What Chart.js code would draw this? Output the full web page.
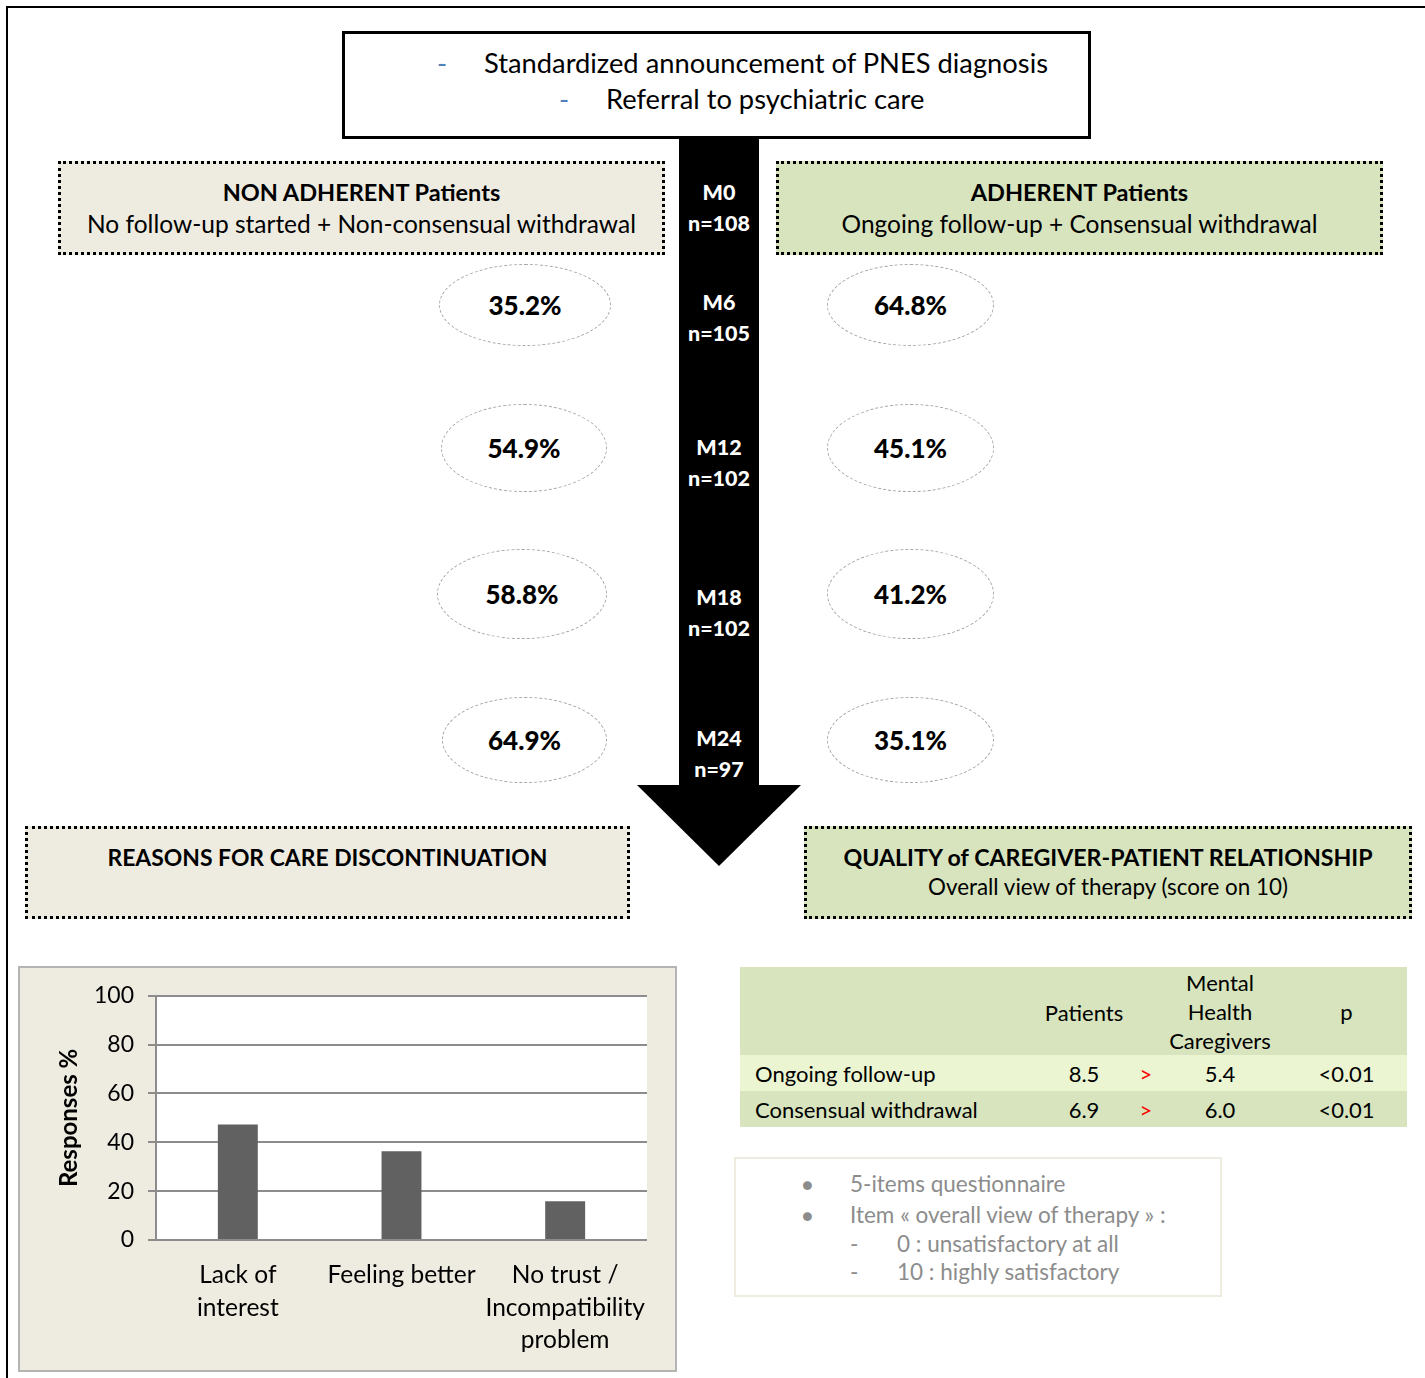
<!DOCTYPE html>
<html>
<head>
<meta charset="utf-8">
<script src="https://cdn.jsdelivr.net/npm/chart.js@4"></script>
<style>
    html, body { margin: 0; padding: 0; background: #fff; }
    body { width: 1425px; height: 1378px; position: relative; overflow: hidden; font-family: Lato, "Open Sans", sans-serif; color: #000; }
    .abs { position: absolute; }
    .frame { left: 6px; top: 6px; width: 1440px; height: 1400px; border-left: 2px solid #000; border-top: 2px solid #000; }
    .topBox { left: 342px; top: 31px; width: 743px; height: 102px; border: 3px solid #000; background: #fff; font-size: 27.3px; line-height: 32px; }
    .topBox div { position: absolute; white-space: nowrap; }
    .dash { color: #4f81bd; }
    .dotted { border: 3px dotted #000; box-sizing: border-box; text-align: center; }
    .beige { background: #eeece1; }
    .green { background: #d7e4bd; }
    .ttl { font-weight: bold; font-size: 23.5px; line-height: 30px; }
    .sub { font-size: 24.5px; line-height: 31px; }
    .shaft { left: 679px; top: 139px; width: 80px; height: 647px; background: #000; }
    .head { left: 637px; top: 785px; width: 0; height: 0; border-left: 82px solid transparent; border-right: 82px solid transparent; border-top: 81px solid #000; }
    .mlab { width: 80px; left: 679px; text-align: center; color: #fff; font-weight: 900; font-size: 21.5px; line-height: 31px; }
    .ell { border: 1px dashed #a6a6a6; border-radius: 50%; box-sizing: border-box; display: flex; align-items: center; justify-content: center; font-weight: 900; font-size: 26px; }
    .panel { left: 18px; top: 966px; width: 659px; height: 406px; background: #eeece1; border: 2px solid #b4b4b4; box-sizing: border-box; }
    table.q { position: absolute; left: 740px; top: 967px; width: 667px; border-collapse: collapse; font-size: 22px; table-layout: fixed; }
    table.q td { padding: 0; }
    .note { left: 734px; top: 1157px; width: 488px; height: 140px; border: 2px solid #eeece1; box-sizing: border-box; color: #8c8c8c; font-size: 22.5px; line-height: 26px; }
    .note div { position: absolute; white-space: nowrap; }
</style>
</head>
<body>
<div class="abs frame"></div>

<div class="abs topBox">
    <div class="dash" style="left:92px; top:13px;">-</div>
    <div style="left:139px; top:13px;">Standardized announcement of PNES diagnosis</div>
    <div class="dash" style="left:214px; top:49px;">-</div>
    <div style="left:261px; top:49px;">Referral to psychiatric care</div>
</div>

<div class="abs shaft"></div>
<div class="abs head"></div>

<div class="abs dotted beige" style="left:58px; top:161px; width:607px; height:94px; padding-top:13px;">
    <div class="ttl">NON ADHERENT Patients</div>
    <div class="sub" style="margin-top:1px;">No follow-up started + Non-consensual withdrawal</div>
</div>
<div class="abs dotted green" style="left:776px; top:161px; width:607px; height:94px; padding-top:13px;">
    <div class="ttl">ADHERENT Patients</div>
    <div class="sub" style="margin-top:1px;">Ongoing follow-up + Consensual withdrawal</div>
</div>

<div class="abs dotted beige" style="left:25px; top:826px; width:605px; height:93px; padding-top:13px;">
    <div class="ttl" style="font-size:22.9px;">REASONS FOR CARE DISCONTINUATION</div>
</div>
<div class="abs dotted green" style="left:804px; top:826px; width:608px; height:93px; padding-top:13px;">
    <div class="ttl" style="font-size:23.2px;">QUALITY of CAREGIVER-PATIENT RELATIONSHIP</div>
    <div style="font-size:22.4px; line-height:30px;">Overall view of therapy (score on 10)</div>
</div>

<div id="timeline"></div>

<div class="abs panel">
    <canvas id="reasonsChart" width="655" height="402" style="display:block; width:655px; height:402px;"></canvas>
</div>

<table class="q" id="qualityTable"></table>

<div class="abs note">
    <div style="left:66px; top:12px; font-size:18px;">&#9679;</div>
    <div style="left:114px; top:12px;">5-items questionnaire</div>
    <div style="left:66px; top:43px; font-size:18px;">&#9679;</div>
    <div style="left:114px; top:43px;">Item « overall view of therapy » :</div>
    <div style="left:114px; top:72px;">-</div>
    <div style="left:161px; top:72px;">0 : unsatisfactory at all</div>
    <div style="left:114px; top:100px;">-</div>
    <div style="left:161px; top:100px;">10 : highly satisfactory</div>
</div>

<script>
// follow-up time points along the arrow
const months = ['M0', 'M6', 'M12', 'M18', 'M24'];
const sampleSizes = [108, 105, 102, 102, 97];
const nonAdherentPct = [null, '35.2%', '54.9%', '58.8%', '64.9%'];
const adherentPct = [null, '64.8%', '45.1%', '41.2%', '35.1%'];

// reasons for discontinuation (bar chart)
const reasonLabels = [['Lack of', 'interest'], 'Feeling better', ['No trust /', 'Incompatibility', 'problem']];
const reasonValues = [47.3, 36.3, 15.9];
const yTicks = [0, 20, 40, 60, 80, 100];

// overall view of therapy table
const qualityHeaders = ['Patients', 'Mental Health Caregivers', 'p'];
const qualityRows = ['Ongoing follow-up', 'Consensual withdrawal'];
const patientScores = ['8.5', '6.9'];
const caregiverScores = ['5.4', '6.0'];
const pValues = ['<0.01', '<0.01'];

document.addEventListener('DOMContentLoaded', function() {
    // arrow labels and percentage ellipses
    const timeline = document.getElementById('timeline');
    const labelTops = [177, 287, 432, 582, 723];
    const ellipseRows = [null, [265, 82], [405, 88], [550, 90], [698, 86]];
    const leftEll = [null, [439, 172], [441, 166], [437, 170], [442, 165]];

    months.forEach((m, i) => {
        const lab = document.createElement('div');
        lab.className = 'abs mlab';
        lab.style.top = labelTops[i] + 'px';
        lab.innerHTML = m + '<br>n=' + sampleSizes[i];
        timeline.appendChild(lab);

        if (nonAdherentPct[i]) {
            const [top, h] = ellipseRows[i];
            const l = document.createElement('div');
            l.className = 'abs ell';
            l.style.cssText = `left:${leftEll[i][0]}px; top:${top - 1}px; width:${leftEll[i][1]}px; height:${h}px;`;
            l.textContent = nonAdherentPct[i];
            timeline.appendChild(l);

            const r = document.createElement('div');
            r.className = 'abs ell';
            r.style.cssText = `left:827px; top:${top - 1}px; width:167px; height:${h}px;`;
            r.textContent = adherentPct[i];
            timeline.appendChild(r);
        }
    });

    // quality table
    const table = document.getElementById('qualityTable');
    table.innerHTML = `
        <tr style="background:#d7e4bd; height:88px;">
            <td style="width:290px;"></td>
            <td style="width:108px; text-align:center; padding-top:2px;">${qualityHeaders[0]}</td>
            <td style="width:16px;"></td>
            <td style="width:132px; text-align:center; line-height:29px;">Mental<br>Health<br>Caregivers</td>
            <td style="text-align:center;">${qualityHeaders[2]}</td>
        </tr>`;
    qualityRows.forEach((row, i) => {
        const tr = document.createElement('tr');
        tr.style.background = i === 0 ? '#ebf5d2' : '#d7e4bd';
        tr.style.height = '36px';
        tr.innerHTML = `
            <td style="padding-left:15px;">${row}</td>
            <td style="text-align:center;">${patientScores[i]}</td>
            <td style="text-align:center; color:#ff0000;">&gt;</td>
            <td style="text-align:center;">${caregiverScores[i]}</td>
            <td style="text-align:center;">${pValues[i].replace('<', '&lt;')}</td>`;
        table.appendChild(tr);
    });

    createReasonsChart();
});

function createReasonsChart() {
    const plotBackground = {
        id: 'plotBackground',
        beforeDraw(chart) {
            const { ctx, chartArea } = chart;
            ctx.save();
            ctx.fillStyle = '#ffffff';
            ctx.fillRect(chartArea.left, chartArea.top, chartArea.right - chartArea.left, chartArea.bottom - chartArea.top);
            ctx.restore();
        }
    };

    const ctx = document.getElementById('reasonsChart').getContext('2d');
    new Chart(ctx, {
        type: 'bar',
        data: {
            labels: reasonLabels,
            datasets: [{
                data: reasonValues,
                backgroundColor: '#616161',
                barPercentage: 0.244,
                categoryPercentage: 1
            }]
        },
        options: {
            responsive: false,
            animation: false,
            layout: { padding: { left: 0, top: 27, right: 28, bottom: 0 } },
            plugins: { legend: { display: false }, tooltip: { enabled: false } },
            scales: {
                x: {
                    grid: { display: false, drawTicks: false },
                    border: { display: false },
                    ticks: {
                        color: '#000',
                        padding: 19,
                        maxRotation: 0,
                        autoSkip: false,
                        font: { family: 'Lato', size: 24.5, lineHeight: 1.33 }
                    },
                    afterFit(scale) { scale.height = 130; }
                },
                y: {
                    min: 0,
                    max: 100,
                    afterBuildTicks(scale) { scale.ticks = yTicks.map(v => ({ value: v })); },
                    grid: { color: '#8c8c8c', lineWidth: 2, tickLength: 8 },
                    border: { color: '#8c8c8c', width: 2 },
                    ticks: {
                        color: '#000',
                        padding: 14,
                        font: { family: 'Lato', size: 23 }
                    },
                    title: {
                        display: true,
                        text: 'Responses %',
                        color: '#000',
                        padding: { top: 35, bottom: 0 },
                        font: { family: 'Lato', size: 24, weight: 'bold' }
                    },
                    afterFit(scale) { scale.width = 136; }
                }
            }
        },
        plugins: [plotBackground]
    });
}
</script>
</body>
</html>
